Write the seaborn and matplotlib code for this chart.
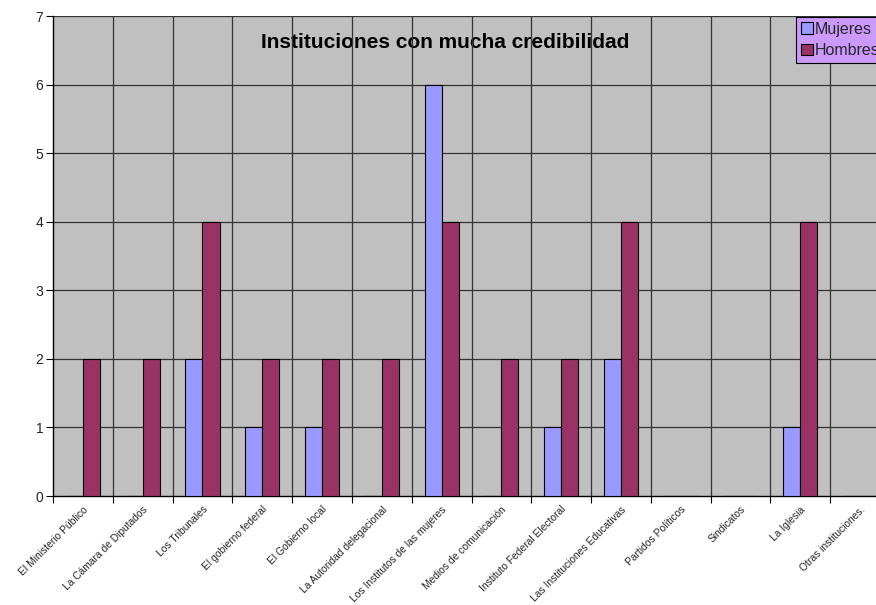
import matplotlib
matplotlib.use("Agg")
import matplotlib.pyplot as plt
import seaborn as sns
import pandas as pd
import numpy as np
from matplotlib.patches import Patch

categorias = [
    "El Ministerio Público", "La Cámara de Diputados", "Los Tribunales",
    "El gobierno federal", "El Gobierno local", "La Autoridad delegacional",
    "Los Institutos de las mujeres", "Medios de comunicación",
    "Instituto Federal Electoral", "Las Instituciones Educativas",
    "Partidos Políticos", "Sindicatos", "La Iglesia", "Otras instituciones.",
]
mujeres = [0, 0, 2, 1, 1, 0, 6, 0, 1, 2, 0, 0, 1, 0]
hombres = [2, 2, 4, 2, 2, 2, 4, 2, 2, 4, 0, 0, 4, 0]
series = ["Mujeres", "Hombres"]
colores = ["#9999FF", "#993366"]

df = pd.DataFrame({
    "Institución": categorias * 2,
    "Valor": mujeres + hombres,
    "Sexo": [series[0]] * len(categorias) + [series[1]] * len(categorias),
})

sns.set_theme(style="white")
plt.rcParams["font.family"] = ["Liberation Sans", "DejaVu Sans"]

fig = plt.figure(figsize=(8.76, 6.05), dpi=100)
ax = fig.add_axes([53 / 876, 1 - 496 / 605, 837 / 876, 480 / 605])
ax.set_facecolor("#C0C0C0")

sns.barplot(data=df, x="Institución", y="Valor", hue="Sexo", order=categorias,
            hue_order=series, palette=colores, width=0.57, edgecolor="black",
            linewidth=0.8, saturation=1, ax=ax, legend=False, zorder=3)

n = len(categorias)
ax.set_xlim(-0.5, n - 0.5)
ax.set_ylim(0, 7)
ax.set_yticks(range(0, 8))
ax.tick_params(axis="y", labelsize=10, length=5, width=0.8, color="black",
               direction="out", left=True, pad=2)
ax.set_xticks(range(n))
ax.set_xticklabels(categorias, rotation=45, ha="right", rotation_mode="anchor",
                   fontsize=7.4)
ax.tick_params(axis="x", length=0, pad=6)
ax.set_xticks(np.arange(-0.5, n, 1), minor=True)
ax.tick_params(axis="x", which="minor", length=5, width=0.8, color="black",
               direction="out", bottom=True)

# title sits inside the plot area, under the grid lines
ax.text(0.469, 0.944, "Instituciones con mucha credibilidad", transform=ax.transAxes,
        ha="center", va="center", fontsize=15, fontweight="bold", color="black",
        zorder=0.5)

# grid lines at every integer and at category boundaries
for y in range(1, 8):
    ax.axhline(y, color="#333333", lw=0.9, zorder=1)
for x in np.arange(0.5, n, 1):
    ax.axvline(x, color="#333333", lw=0.9, zorder=1)

for s in ["top", "right"]:
    ax.spines[s].set_visible(False)
for s in ["left", "bottom"]:
    ax.spines[s].set_color("black")
    ax.spines[s].set_linewidth(1.0)
ax.set_xlabel("")
ax.set_ylabel("")

handles = [Patch(facecolor=c, edgecolor="black", lw=0.8) for c in colores]
leg = fig.legend(handles, series, loc="upper left",
                 bbox_to_anchor=(796 / 876, 1 - 17 / 605), fontsize=11.5,
                 frameon=True, fancybox=False, borderpad=0.3, handlelength=0.75,
                 handleheight=0.75, handletextpad=0.15, labelspacing=0.4,
                 borderaxespad=0)
leg.get_frame().set_facecolor("#CC99FF")
leg.get_frame().set_edgecolor("black")
leg.get_frame().set_linewidth(0.8)
leg.get_frame().set_alpha(1)

fig.savefig("out.png", dpi=100, facecolor="white")
